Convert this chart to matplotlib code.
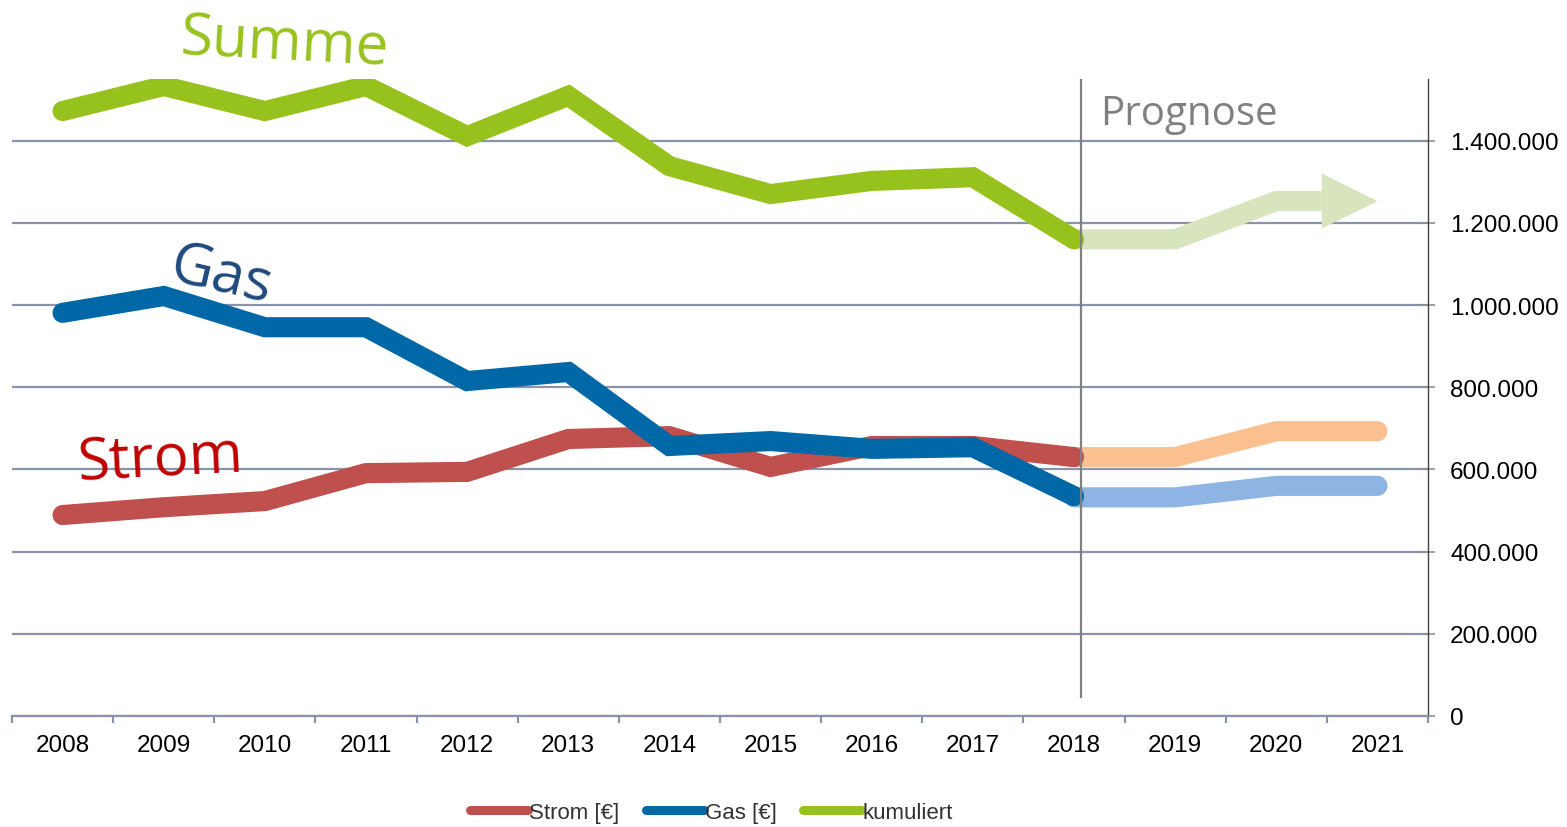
"""Energiekosten Strom / Gas 2008-2021 mit Prognose ab 2018."""
import numpy as np
import matplotlib; matplotlib.use('Agg'); import matplotlib.pyplot as plt
from matplotlib.ticker import FuncFormatter, FixedLocator

years = ['2008', '2009', '2010', '2011', '2012', '2013', '2014',
         '2015', '2016', '2017', '2018', '2019', '2020', '2021']
# Ist-Werte 2008-2018
strom = [489000, 508000, 523000, 591000, 594000, 674000, 681000, 606000, 657000, 657000, 630000]
gas = [981000, 1022000, 946000, 946000, 815000, 837000, 657000, 669000, 650000, 654000, 535000]
summe = [1472000, 1533000, 1472000, 1533000, 1411000, 1509000, 1338000, 1270000, 1302000, 1311000, 1160000]
# Prognose 2018-2021
strom_prog = [630000, 630000, 693000, 693000]
gas_prog = [532000, 532000, 560000, 560000]
summe_prog = [1160000, 1160000, 1253000, 1253000]

C_STROM, C_GAS, C_SUM = '#C0504D', '#0068A7', '#97C21E'
CP_STROM, CP_GAS, CP_SUM = '#FAC090', '#8EB4E3', '#D7E4BD'
GRID = '#8A93AB'
LW = 14.5

plt.rcParams['font.family'] = ['Liberation Sans', 'DejaVu Sans']
fig = plt.figure(figsize=(15.67, 8.28), dpi=100)
ax = fig.add_axes([12 / 1567, 1 - 717 / 828, (1428 - 12) / 1567, (717 - 80) / 828])

x = np.arange(len(years)); xh = x[:len(strom)]; xp = x[len(strom) - 1:]

# Prognose zuerst (liegt unter den Ist-Linien)
ax.plot(xp, strom_prog, color=CP_STROM, lw=LW, solid_capstyle='round', solid_joinstyle='miter', zorder=3)
ax.plot(xp, gas_prog, color=CP_GAS, lw=LW, solid_capstyle='round', solid_joinstyle='miter', zorder=3)
head_len, head_half = 0.55, 67000
ax.plot(list(xp[:-1]) + [xp[-1] - head_len], summe_prog, color=CP_SUM, lw=LW,
        solid_capstyle='butt', solid_joinstyle='miter', zorder=3)
ax.fill([xp[-1] - head_len, xp[-1], xp[-1] - head_len],
        [summe_prog[-1] + head_half, summe_prog[-1], summe_prog[-1] - head_half],
        color=CP_SUM, lw=0, zorder=3)

ax.plot(xh, strom, color=C_STROM, lw=LW, solid_capstyle='round', solid_joinstyle='miter', label='Strom [€]', zorder=4)
ax.plot(xh, gas, color=C_GAS, lw=LW, solid_capstyle='round', solid_joinstyle='miter', label='Gas [€]', zorder=5)
ax.plot(xh, summe, color=C_SUM, lw=LW, solid_capstyle='round', solid_joinstyle='miter', label='kumuliert', zorder=4)

# Trennlinie Prognose
ax.axvline(len(strom) - 1 + 0.07, ymin=0.03, ymax=1, color='#808080', lw=1.6, zorder=6)

ax.set_xlim(-0.5, len(years) - 0.5); ax.set_ylim(0, 1550000)
ax.set_yticks(np.arange(0, 1400001, 200000))
ax.yaxis.set_major_formatter(FuncFormatter(lambda v, p: f'{int(v):,}'.replace(',', '.')))
ax.yaxis.tick_right()
ax.grid(axis='y', color=GRID, lw=1.6, zorder=1)
ax.set_xticks(x); ax.set_xticklabels(years)
ax.xaxis.set_minor_locator(FixedLocator(np.arange(-0.5, len(years), 1)))
ax.tick_params(axis='x', which='major', length=0, pad=13, labelsize=17.5)
ax.tick_params(axis='x', which='minor', length=5, width=1.6, color=GRID, direction='out')
ax.tick_params(axis='y', length=10, width=1.2, color='#909090', direction='inout', pad=11, labelsize=17.5)
for s in ('top', 'left'): ax.spines[s].set_visible(False)
ax.spines['bottom'].set_color(GRID); ax.spines['bottom'].set_linewidth(1.6)
ax.spines['right'].set_color('#404040'); ax.spines['right'].set_linewidth(1.0)

lab = dict(family=['Open Sans', 'DejaVu Sans'], transform=fig.transFigure, ha='center', va='center')
fig.text(0.181, 0.946, 'Summe', color=C_SUM, fontsize=42, rotation=-3, **lab)
fig.text(0.141, 0.665, 'Gas', color='#1F497D', fontsize=42, rotation=-13, **lab)
fig.text(0.102, 0.443, 'Strom', color='#C00000', fontsize=42, rotation=3, **lab)
fig.text(0.702, 0.862, 'Prognose', color='#808080', fontsize=29,
         family=['Open Sans', 'DejaVu Sans'], ha='left', va='center')

leg = fig.legend(loc='center', bbox_to_anchor=(0.454, 0.018), ncol=3, frameon=False,
                 fontsize=16, handlelength=2.6, handletextpad=0.05, columnspacing=1.2)
for h in leg.get_lines(): h.set_linewidth(6.5); h.set_solid_capstyle('round')
for t in leg.get_texts(): t.set_color('#333333')

fig.savefig('out.png', dpi=100)
